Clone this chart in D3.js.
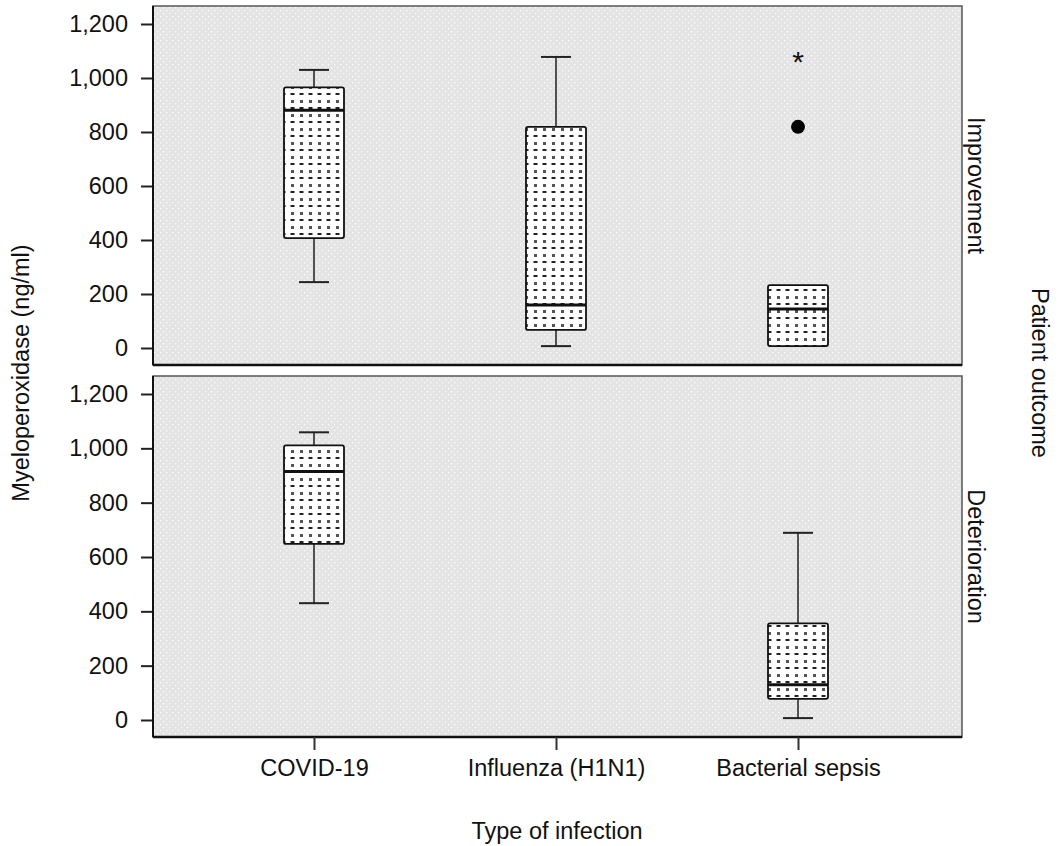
<!DOCTYPE html>
<html>
<head>
<meta charset="utf-8">
<script src="https://cdn.jsdelivr.net/npm/d3@7"></script>
<style>
  body { margin: 0; background: #fff; }
  text { font-family: "Liberation Sans", Arial, sans-serif; fill: #111; }
</style>
</head>
<body>
<div class="chart-container"></div>
<script>
// data
const infections = ["COVID-19", "Influenza (H1N1)", "Bacterial sepsis"];
const outcomes = ["Improvement", "Deterioration"];
const yTicks = [0, 200, 400, 600, 800, 1000, 1200];

// [lower whisker, Q1, median, Q3, upper whisker]
const improvementBoxes = [
  [244, 407, 881, 965, 1030],
  [7, 67, 159, 819, 1078],
  [7, 7, 144, 233, 233]
];
const deteriorationBoxes = [
  [430, 648, 915, 1011, 1059],
  null,
  [7, 78, 130, 356, 689]
];
const improvementOutliers = [
  { infection: "Bacterial sepsis", value: 819, kind: "circle" },
  { infection: "Bacterial sepsis", value: 1074, kind: "star" }
];
const deteriorationOutliers = [];

const width = 1059, height = 846;
const plotLeft = 153, plotRight = 962;
const fontSize = '23.5px';
const panels = [
  { name: outcomes[0], top: 6, bottom: 365, boxes: improvementBoxes, outliers: improvementOutliers },
  { name: outcomes[1], top: 376, bottom: 737, boxes: deteriorationBoxes, outliers: deteriorationOutliers }
];

const svg = d3.select('.chart-container')
  .append('svg')
  .attr('width', width)
  .attr('height', height);

const defs = svg.append('defs');
// grey panel background with white dots
const bg = defs.append('pattern')
  .attr('id', 'bgDots')
  .attr('patternUnits', 'userSpaceOnUse')
  .attr('width', 6).attr('height', 6);
bg.append('rect').attr('width', 6).attr('height', 6).attr('fill', '#e4e4e4');
bg.append('rect').attr('x', 1).attr('y', 1).attr('width', 1.3).attr('height', 1.3).attr('fill', '#fbfbfb');
bg.append('rect').attr('x', 4).attr('y', 4).attr('width', 1.3).attr('height', 1.3).attr('fill', '#fbfbfb');

// box fill: white with dark dots / dashes
const bf = defs.append('pattern')
  .attr('id', 'boxDots')
  .attr('patternUnits', 'userSpaceOnUse')
  .attr('width', 9).attr('height', 14);
bf.append('rect').attr('width', 9).attr('height', 14).attr('fill', '#fff');
bf.append('rect').attr('x', 3).attr('y', 2).attr('width', 3).attr('height', 3).attr('fill', '#555');
bf.append('rect').attr('x', 2.5).attr('y', 9).attr('width', 4).attr('height', 2).attr('fill', '#222');

const xScale = d3.scalePoint()
  .domain(infections)
  .range([314, 798]);

const boxW = 60;

panels.forEach((p, pi) => {
  const yScale = d3.scaleLinear()
    .domain([0, 1200])
    .range([p.bottom - 17, p.top + 18]);

  const g = svg.append('g');

  g.append('rect')
    .attr('x', plotLeft).attr('y', p.top)
    .attr('width', plotRight - plotLeft).attr('height', p.bottom - p.top)
    .attr('fill', 'url(#bgDots)')
    .attr('stroke', '#555').attr('stroke-width', 1.5);

  // y axis
  const yAxis = g.append('g')
    .attr('transform', `translate(${plotLeft}, 0)`)
    .call(d3.axisLeft(yScale).tickValues(yTicks).tickSize(12).tickPadding(13)
      .tickFormat(d3.format(',')));
  yAxis.select('.domain').remove();
  yAxis.selectAll('line').attr('stroke', '#222').attr('stroke-width', 2);
  yAxis.selectAll('text').style('font-size', fontSize).attr('fill', '#111')
    .style('font-family', '"Liberation Sans", Arial, sans-serif');

  // dark axis lines (left + bottom)
  g.append('line').attr('x1', plotLeft).attr('x2', plotLeft)
    .attr('y1', p.top).attr('y2', p.bottom)
    .attr('stroke', '#111').attr('stroke-width', 2);
  g.append('line').attr('x1', plotLeft).attr('x2', plotRight)
    .attr('y1', p.bottom).attr('y2', p.bottom)
    .attr('stroke', '#111').attr('stroke-width', 2.5);

  // boxes
  const data = p.boxes.map((b, i) => ({ infection: infections[i], b })).filter(d => d.b);
  const bx = g.selectAll('.box').data(data).enter().append('g').attr('class', 'box');

  bx.append('line')
    .attr('x1', d => xScale(d.infection)).attr('x2', d => xScale(d.infection))
    .attr('y1', d => yScale(d.b[0])).attr('y2', d => yScale(d.b[1]))
    .attr('stroke', '#222').attr('stroke-width', 1.5);
  bx.append('line')
    .attr('x1', d => xScale(d.infection)).attr('x2', d => xScale(d.infection))
    .attr('y1', d => yScale(d.b[3])).attr('y2', d => yScale(d.b[4]))
    .attr('stroke', '#222').attr('stroke-width', 1.5);
  bx.filter(d => d.b[0] < d.b[1]).append('line')
    .attr('x1', d => xScale(d.infection) - boxW / 4).attr('x2', d => xScale(d.infection) + boxW / 4)
    .attr('y1', d => yScale(d.b[0])).attr('y2', d => yScale(d.b[0]))
    .attr('stroke', '#222').attr('stroke-width', 2);
  bx.filter(d => d.b[4] > d.b[3]).append('line')
    .attr('x1', d => xScale(d.infection) - boxW / 4).attr('x2', d => xScale(d.infection) + boxW / 4)
    .attr('y1', d => yScale(d.b[4])).attr('y2', d => yScale(d.b[4]))
    .attr('stroke', '#222').attr('stroke-width', 2);

  bx.append('rect')
    .attr('x', d => xScale(d.infection) - boxW / 2)
    .attr('y', d => yScale(d.b[3]))
    .attr('width', boxW)
    .attr('height', d => yScale(d.b[1]) - yScale(d.b[3]))
    .attr('rx', 2)
    .attr('fill', 'url(#boxDots)')
    .attr('stroke', '#111').attr('stroke-width', 1.8);

  bx.append('line')
    .attr('x1', d => xScale(d.infection) - boxW / 2).attr('x2', d => xScale(d.infection) + boxW / 2)
    .attr('y1', d => yScale(d.b[2])).attr('y2', d => yScale(d.b[2]))
    .attr('stroke', '#111').attr('stroke-width', 3);

  // outliers
  g.selectAll('.out-c').data(p.outliers.filter(o => o.kind === 'circle')).enter()
    .append('circle')
    .attr('cx', d => xScale(d.infection)).attr('cy', d => yScale(d.value))
    .attr('r', 7).attr('fill', '#000');
  g.selectAll('.out-s').data(p.outliers.filter(o => o.kind === 'star')).enter()
    .append('text')
    .attr('x', d => xScale(d.infection)).attr('y', d => yScale(d.value) + 14)
    .attr('text-anchor', 'middle')
    .style('font-size', '30px')
    .text('*');

  // facet label on the right
  g.append('text')
    .attr('transform', `translate(${plotRight + 6}, ${(p.top + p.bottom) / 2}) rotate(90)`)
    .attr('text-anchor', 'middle')
    .style('font-size', fontSize)
    .text(p.name);
});

// x axis on bottom panel
const last = panels[1];
const xAxis = svg.append('g')
  .attr('transform', `translate(0, ${last.bottom})`)
  .call(d3.axisBottom(xScale).tickSize(13).tickPadding(9));
xAxis.select('.domain').remove();
xAxis.selectAll('line').attr('stroke', '#333').attr('stroke-width', 2);
xAxis.selectAll('text').style('font-size', fontSize).attr('fill', '#111')
  .style('font-family', '"Liberation Sans", Arial, sans-serif');

svg.append('text')
  .attr('x', 557).attr('y', 839)
  .attr('text-anchor', 'middle')
  .style('font-size', fontSize)
  .text('Type of infection');

svg.append('text')
  .attr('transform', `translate(29, 373) rotate(-90)`)
  .attr('text-anchor', 'middle')
  .style('font-size', fontSize)
  .text('Myeloperoxidase (ng/ml)');

svg.append('text')
  .attr('transform', `translate(1032, 373) rotate(90)`)
  .attr('text-anchor', 'middle')
  .style('font-size', fontSize)
  .text('Patient outcome');
</script>
</body>
</html>
